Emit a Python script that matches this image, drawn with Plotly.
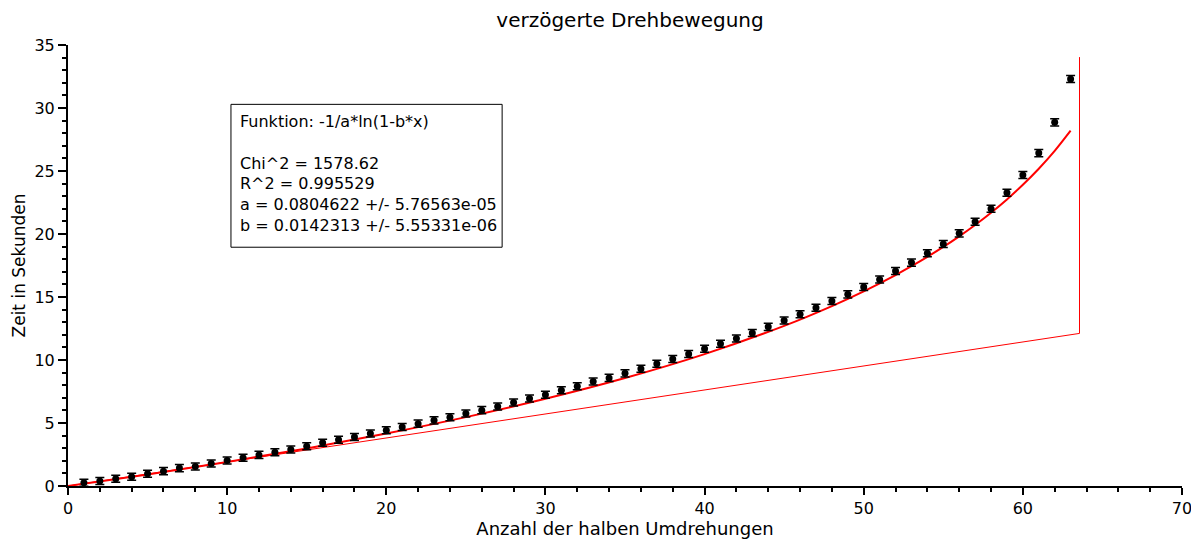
import plotly.graph_objects as go

# Measured data: half revolutions vs. time (s)
n_half = list(range(1, 64))
zeit = [0.26, 0.39, 0.58, 0.74, 0.97, 1.18, 1.42, 1.55, 1.79, 2.03,
        2.24, 2.47, 2.68, 2.89, 3.16, 3.44, 3.67, 3.89, 4.17, 4.42,
        4.68, 4.95, 5.21, 5.45, 5.76, 6.02, 6.31, 6.63, 6.95, 7.24,
        7.60, 7.92, 8.29, 8.58, 8.94, 9.31, 9.71, 10.08, 10.47, 10.89,
        11.29, 11.71, 12.15, 12.63, 13.13, 13.63, 14.15, 14.68, 15.21, 15.79,
        16.39, 17.07, 17.73, 18.47, 19.20, 20.05, 20.97, 22.00, 23.28, 24.68,
        26.42, 28.86, 32.30]
zeit_err = [0.28] * len(zeit)

# Fit curve values (-1/a*ln(1-b*x)) read at selected x positions
fit_x = [0, 5, 10, 15, 20, 25, 30, 35, 40, 45, 48, 50, 52, 53, 54, 55, 56,
         57, 58, 59, 60, 61, 62, 63]
fit_y = [0.0, 0.917, 1.908, 2.984, 4.163, 5.465, 6.920, 8.567, 10.467, 12.711,
         14.282, 15.452, 16.743, 17.443, 18.184, 18.973, 19.815, 20.718,
         21.692, 22.748, 23.903, 25.177, 26.596, 28.198]

# Thin auxiliary line (artifact of the plotting program)
aux_x = [0, 63.56, 63.56]
aux_y = [0, 12.11, 34.04]

box_text = ("Funktion: -1/a*ln(1-b*x)<br><br>"
            "Chi^2 = 1578.62<br>"
            "R^2 = 0.995529<br>"
            "a = 0.0804622 +/- 5.76563e-05<br>"
            "b = 0.0142313 +/- 5.55331e-06")

font_family = "DejaVu Sans, Verdana, sans-serif"

# the page body adds an 8px offset, so the figure is 8px smaller than the window
W, H = 1191, 534

fig = go.Figure()

fig.add_trace(go.Scatter(
    x=aux_x, y=aux_y, mode="lines",
    line=dict(color="#ff0000", width=1),
    hoverinfo="skip", showlegend=False))

fig.add_trace(go.Scatter(
    x=fit_x, y=fit_y, mode="lines",
    line=dict(color="#ff0000", width=2, shape="spline"),
    showlegend=False))

fig.add_trace(go.Scatter(
    x=n_half, y=zeit, mode="markers",
    marker=dict(color="black", size=7, symbol="circle"),
    error_y=dict(type="data", array=zeit_err, visible=True,
                 color="black", thickness=1.5, width=4.5),
    showlegend=False))

fig.add_shape(type="rect", xref="x", yref="y",
              x0=10.24, x1=27.28, y0=18.95, y1=30.29,
              line=dict(color="black", width=1), fillcolor="white",
              layer="above")

fig.add_annotation(
    x=10.70, y=29.85, xref="x", yref="y",
    xanchor="left", yanchor="top", align="left",
    text=box_text, showarrow=False,
    font=dict(family=font_family, size=16, color="black"))

fig.update_layout(
    width=W, height=H,
    margin=dict(l=60, r=17, t=37, b=56, autoexpand=False),
    paper_bgcolor="white", plot_bgcolor="white",
    font=dict(family=font_family, size=16, color="black"),
    title=dict(text="verzögerte Drehbewegung", x=0.5045, xanchor="center",
               xref="paper", yref="container", y=1 - 12 / H, yanchor="middle",
               font=dict(family=font_family, size=20, color="black")),
)

fig.update_xaxes(
    range=[0, 70], showgrid=False, zeroline=False, automargin=False,
    showline=True, linecolor="black", linewidth=2,
    ticks="outside", ticklen=7, tickwidth=2, tickcolor="black",
    dtick=10, tick0=0,
    minor=dict(ticks="outside", ticklen=4, tickwidth=1.5, tickcolor="black", dtick=2),
    title=dict(text="Anzahl der halben Umdrehungen", standoff=4,
               font=dict(family=font_family, size=18)),
    tickfont=dict(family=font_family, size=16))

fig.update_yaxes(
    range=[0, 35], showgrid=False, zeroline=False, automargin=False,
    showline=True, linecolor="black", linewidth=2,
    ticks="outside", ticklen=8, tickwidth=2, tickcolor="black",
    dtick=5, tick0=0,
    minor=dict(ticks="outside", ticklen=4, tickwidth=1.5, tickcolor="black", dtick=1),
    title=dict(text="Zeit in Sekunden", standoff=4,
               font=dict(family=font_family, size=17)),
    tickfont=dict(family=font_family, size=16))

fig.write_html("out.html")
